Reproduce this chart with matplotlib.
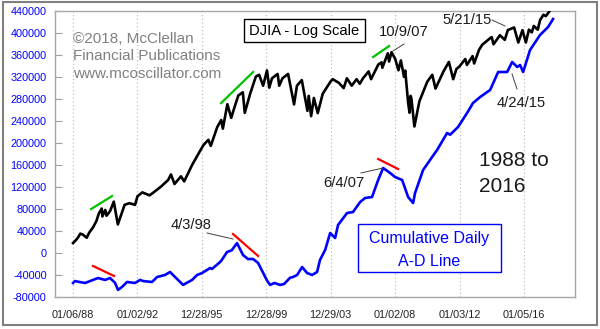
import matplotlib
matplotlib.use("Agg")
import matplotlib.pyplot as plt
from matplotlib.patches import Rectangle
from matplotlib.lines import Line2D

plt.rcParams['font.family'] = ['Liberation Sans', 'DejaVu Sans']

# ---- data (x in decimal years) ----
ad_years = [1988.00, 1988.12, 1988.45, 1988.75, 1989.15, 1989.55, 1989.99, 1990.30, 1990.61, 1990.79,
            1991.04, 1991.35, 1991.85, 1992.16, 1992.35, 1992.90, 1993.22, 1993.71, 1994.02, 1994.33,
            1994.83, 1995.39, 1995.70, 1996.01, 1996.51, 1996.63, 1997.13, 1997.25, 1997.56, 1997.85,
            1998.18, 1998.55, 1998.86, 1999.18, 1999.49, 2000.04, 2000.23, 2000.50, 2000.85, 2001.10,
            2001.47, 2001.66, 2001.91, 2002.22, 2002.53, 2002.84, 2003.15, 2003.33, 2003.65, 2003.96,
            2004.27, 2004.45, 2005.01, 2005.38, 2005.82, 2006.13, 2006.56, 2006.94, 2007.25, 2007.68,
            2007.99, 2008.43, 2008.80, 2009.11, 2009.23, 2009.73, 2010.29, 2010.60, 2011.22, 2011.41,
            2011.90, 2012.46, 2012.83, 2013.27, 2013.89, 2014.39, 2014.95, 2015.26, 2015.57, 2015.75,
            2015.94, 2016.37, 2016.99, 2017.49, 2017.80]
ad_values = [-54500, -51000, -53000, -54500, -50000, -45500, -49000, -45500, -54500, -67000,
             -61800, -52700, -54500, -49000, -51000, -52700, -43600, -40000, -34500, -43600,
             -58000, -49000, -40000, -36400, -27300, -29000, -16400, -12000, 1800, 5000,
             18000, -3600, -11000, -10900, -18200, -50000, -58000, -54500, -58000, -56400,
             -45000, -43600, -40000, -25500, -36400, -40000, -34500, -12700, 5500, 36400,
             27300, 50900, 72700, 74500, 92700, 100000, 101800, 132700, 154500, 145500,
             138200, 132700, 101800, 90900, 109000, 150900, 174500, 187300, 218200, 215000,
             229100, 254500, 272700, 283600, 296400, 329100, 329100, 347300, 338200, 341800,
             329100, 369100, 396400, 410900, 425500]

djia_years = [1988.00, 1988.15, 1988.30, 1988.45, 1988.60, 1988.85, 1989.00, 1989.25, 1989.45, 1989.60,
              1989.78, 1989.82, 1990.00, 1990.08, 1990.30, 1990.53, 1990.78, 1991.00, 1991.20, 1991.50,
              1991.85, 1992.00, 1992.30, 1992.75, 1993.00, 1993.45, 1993.90, 1994.08, 1994.30, 1994.70,
              1994.90, 1995.00, 1995.40, 1995.90, 1996.10, 1996.40, 1996.55, 1996.95, 1997.20, 1997.30,
              1997.58, 1997.82, 1998.00, 1998.26, 1998.54, 1998.66, 1998.99, 1999.35, 1999.55, 1999.80,
              2000.04, 2000.18, 2000.35, 2000.70, 2000.80, 2001.00, 2001.35, 2001.72, 2001.90, 2002.20,
              2002.55, 2002.63, 2002.78, 2002.95, 2003.19, 2003.50, 2003.99, 2004.12, 2004.50, 2004.80,
              2005.00, 2005.30, 2005.60, 2005.80, 2006.00, 2006.35, 2006.50, 2006.95, 2007.15, 2007.20,
              2007.54, 2007.62, 2007.77, 2008.00, 2008.20, 2008.35, 2008.55, 2008.62, 2008.80, 2008.89,
              2008.95, 2009.00, 2009.19, 2009.50, 2009.99, 2010.30, 2010.50, 2010.99, 2011.33, 2011.60,
              2011.80, 2011.99, 2012.35, 2012.45, 2012.80, 2012.90, 2013.20, 2013.40, 2013.90, 2013.99,
              2014.10, 2014.50, 2014.80, 2014.99, 2015.38, 2015.64, 2015.90, 2016.11, 2016.30, 2016.48,
              2016.60, 2016.85, 2016.99, 2017.20, 2017.35, 2017.60]
djia_values = [1950, 2000, 2060, 2150, 2130, 2060, 2170, 2300, 2450, 2650,
               2790, 2570, 2750, 2590, 2720, 2999, 2365, 2630, 2900, 2950,
               2900, 3170, 3300, 3200, 3300, 3500, 3750, 3978, 3600, 3900,
               3700, 3830, 4400, 5100, 5400, 5700, 5350, 6500, 7000, 6400,
               8250, 7160, 7900, 9033, 9338, 7540, 9180, 11000, 11200, 10000,
               11723, 9800, 10800, 11300, 10000, 10800, 11300, 8235, 10000, 10600,
               7700, 9000, 7286, 8800, 7524, 9200, 10450, 10700, 10300, 9750,
               10800, 10000, 10700, 10200, 10800, 11600, 10700, 12460, 12750, 12050,
               14000, 12850, 14165, 13200, 11740, 13000, 10960, 11700, 8400, 7552,
               9000, 8800, 6547, 8500, 10428, 11200, 9700, 11578, 12800, 10700,
               11900, 12218, 13200, 12400, 13600, 12600, 14500, 15300, 16400, 16577,
               15372, 16900, 16100, 17823, 18312, 15666, 17800, 15660, 17900, 17400,
               18600, 17900, 19763, 20900, 20600, 21800]

# divergence trend lines
green_segments = [([1989.12, 1990.42], [2775, 3178]),
                  ([1997.19, 1999.18], [8350, 11527]),
                  ([2006.63, 2007.62], [13473, 15103])]
red_segments = [([1989.24, 1990.55], [-23640, -41820]),
                ([1997.93, 1999.49], [34545, -5455]),
                ([2006.94, 2008.18], [170909, 152727])]

x_tick_pos = [1988.01, 1992.00, 1995.99, 1999.99, 2003.99, 2008.00, 2012.00, 2016.01]
x_tick_labels = ['01/06/88', '01/02/92', '12/28/95', '12/28/99', '12/29/03', '01/02/08', '01/03/12', '01/05/16']
y_ticks = list(range(-80000, 440001, 40000))

W, H = 600, 329
fig = plt.figure(figsize=(6.0, 3.29), dpi=100)
fig.patch.set_facecolor('white')

def fx(px):
    return px / W

def fy(py):
    return 1 - py / H

ax = fig.add_axes([fx(55), fy(297), fx(575) - fx(55), fy(11) - fy(297)])
ax.set_xlim(1986.88, 2019.16)
ax.set_ylim(-80000, 440000)
ax.set_yticks(y_ticks)
ax.set_yticklabels([str(v) for v in y_ticks])
ax.set_xticks(x_tick_pos)
ax.set_xticklabels(x_tick_labels)
ax.tick_params(axis='y', direction='in', length=5, width=0.8, color='#a0a0a0',
               labelcolor='#0000ff', labelsize=7.8, pad=6)
ax.tick_params(axis='x', length=0, labelcolor='#222222', labelsize=7.8, pad=9)
ax.grid(axis='x', color='#c0c0c0', linestyle=(0, (1, 2)), linewidth=0.9)
for s in ax.spines.values():
    s.set_color('#a8a8a8')
    s.set_linewidth(1.0)

ax.plot(ad_years, ad_values, color='#0000ff', linewidth=1.9, zorder=3)
for xs, ys in red_segments:
    ax.plot(xs, ys, color='#ff0000', linewidth=1.6, zorder=4)

ax2 = ax.twinx()
ax2.set_yscale('log')
ax2.set_ylim(1113, 21730)
ax2.set_xlim(ax.get_xlim())
ax2.axis('off')
ax2.plot(djia_years, djia_values, color='#000000', linewidth=1.9, zorder=3)
for xs, ys in green_segments:
    ax2.plot(xs, ys, color='#00c000', linewidth=1.6, zorder=4)

# copyright text
for i, t in enumerate(['\u00a92018, McClellan', 'Financial Publications', 'www.mcoscillator.com']):
    fig.text(fx(73), fy(39 + i * 17.5), t, color='#808080', fontsize=11, ha='left', va='center')

# DJIA box
fig.patches.append(Rectangle((fx(244), fy(42)), fx(365) - fx(244), fy(19) - fy(42),
                             transform=fig.transFigure, fill=True, facecolor='white',
                             edgecolor='black', linewidth=1.0, zorder=5))
fig.text(fx(304.5), fy(30.5), 'DJIA - Log Scale', fontsize=10.6, ha='center', va='center',
         color='black', zorder=6)

# A-D box
fig.patches.append(Rectangle((fx(358), fy(272)), fx(501) - fx(358), fy(224) - fy(272),
                             transform=fig.transFigure, fill=True, facecolor='white',
                             edgecolor='#0000ff', linewidth=1.0, zorder=5))
fig.text(fx(429.5), fy(239), 'Cumulative Daily', fontsize=11.5, ha='center', va='center',
         color='#0000ff', zorder=6)
fig.text(fx(429.5), fy(261), 'A-D Line', fontsize=11.5, ha='center', va='center',
         color='#0000ff', zorder=6)

# 1988 to 2016
fig.text(fx(479), fy(161), '1988 to', fontsize=15, ha='left', va='center', color='#1a1a1a')
fig.text(fx(479), fy(186), '2016', fontsize=15, ha='left', va='center', color='#1a1a1a')

# date annotations
labels = [('10/9/07', 379, 32, (404, 44), (393, 51)),
          ('5/21/15', 442, 20, (492, 20), (505, 26)),
          ('4/24/15', 497, 103, (517, 89), (512, 74)),
          ('6/4/07', 323, 183, (361, 173), (383, 168)),
          ('4/3/98', 171, 225, (207, 233), (233, 239))]
for txt, lx, ly, p0, p1 in labels:
    fig.text(fx(lx), fy(ly), txt, fontsize=10.6, ha='left', va='center', color='#1a1a1a')
    fig.lines.append(Line2D([fx(p0[0]), fx(p1[0])], [fy(p0[1]), fy(p1[1])],
                            transform=fig.transFigure, color='#404040', linewidth=0.7))

# outer frame
fig.patches.append(Rectangle((fx(3), fy(325)), fx(597) - fx(3), fy(1.5) - fy(325),
                             transform=fig.transFigure, fill=False, edgecolor='#808080',
                             linewidth=1.5))

fig.savefig('out.png', dpi=100)
